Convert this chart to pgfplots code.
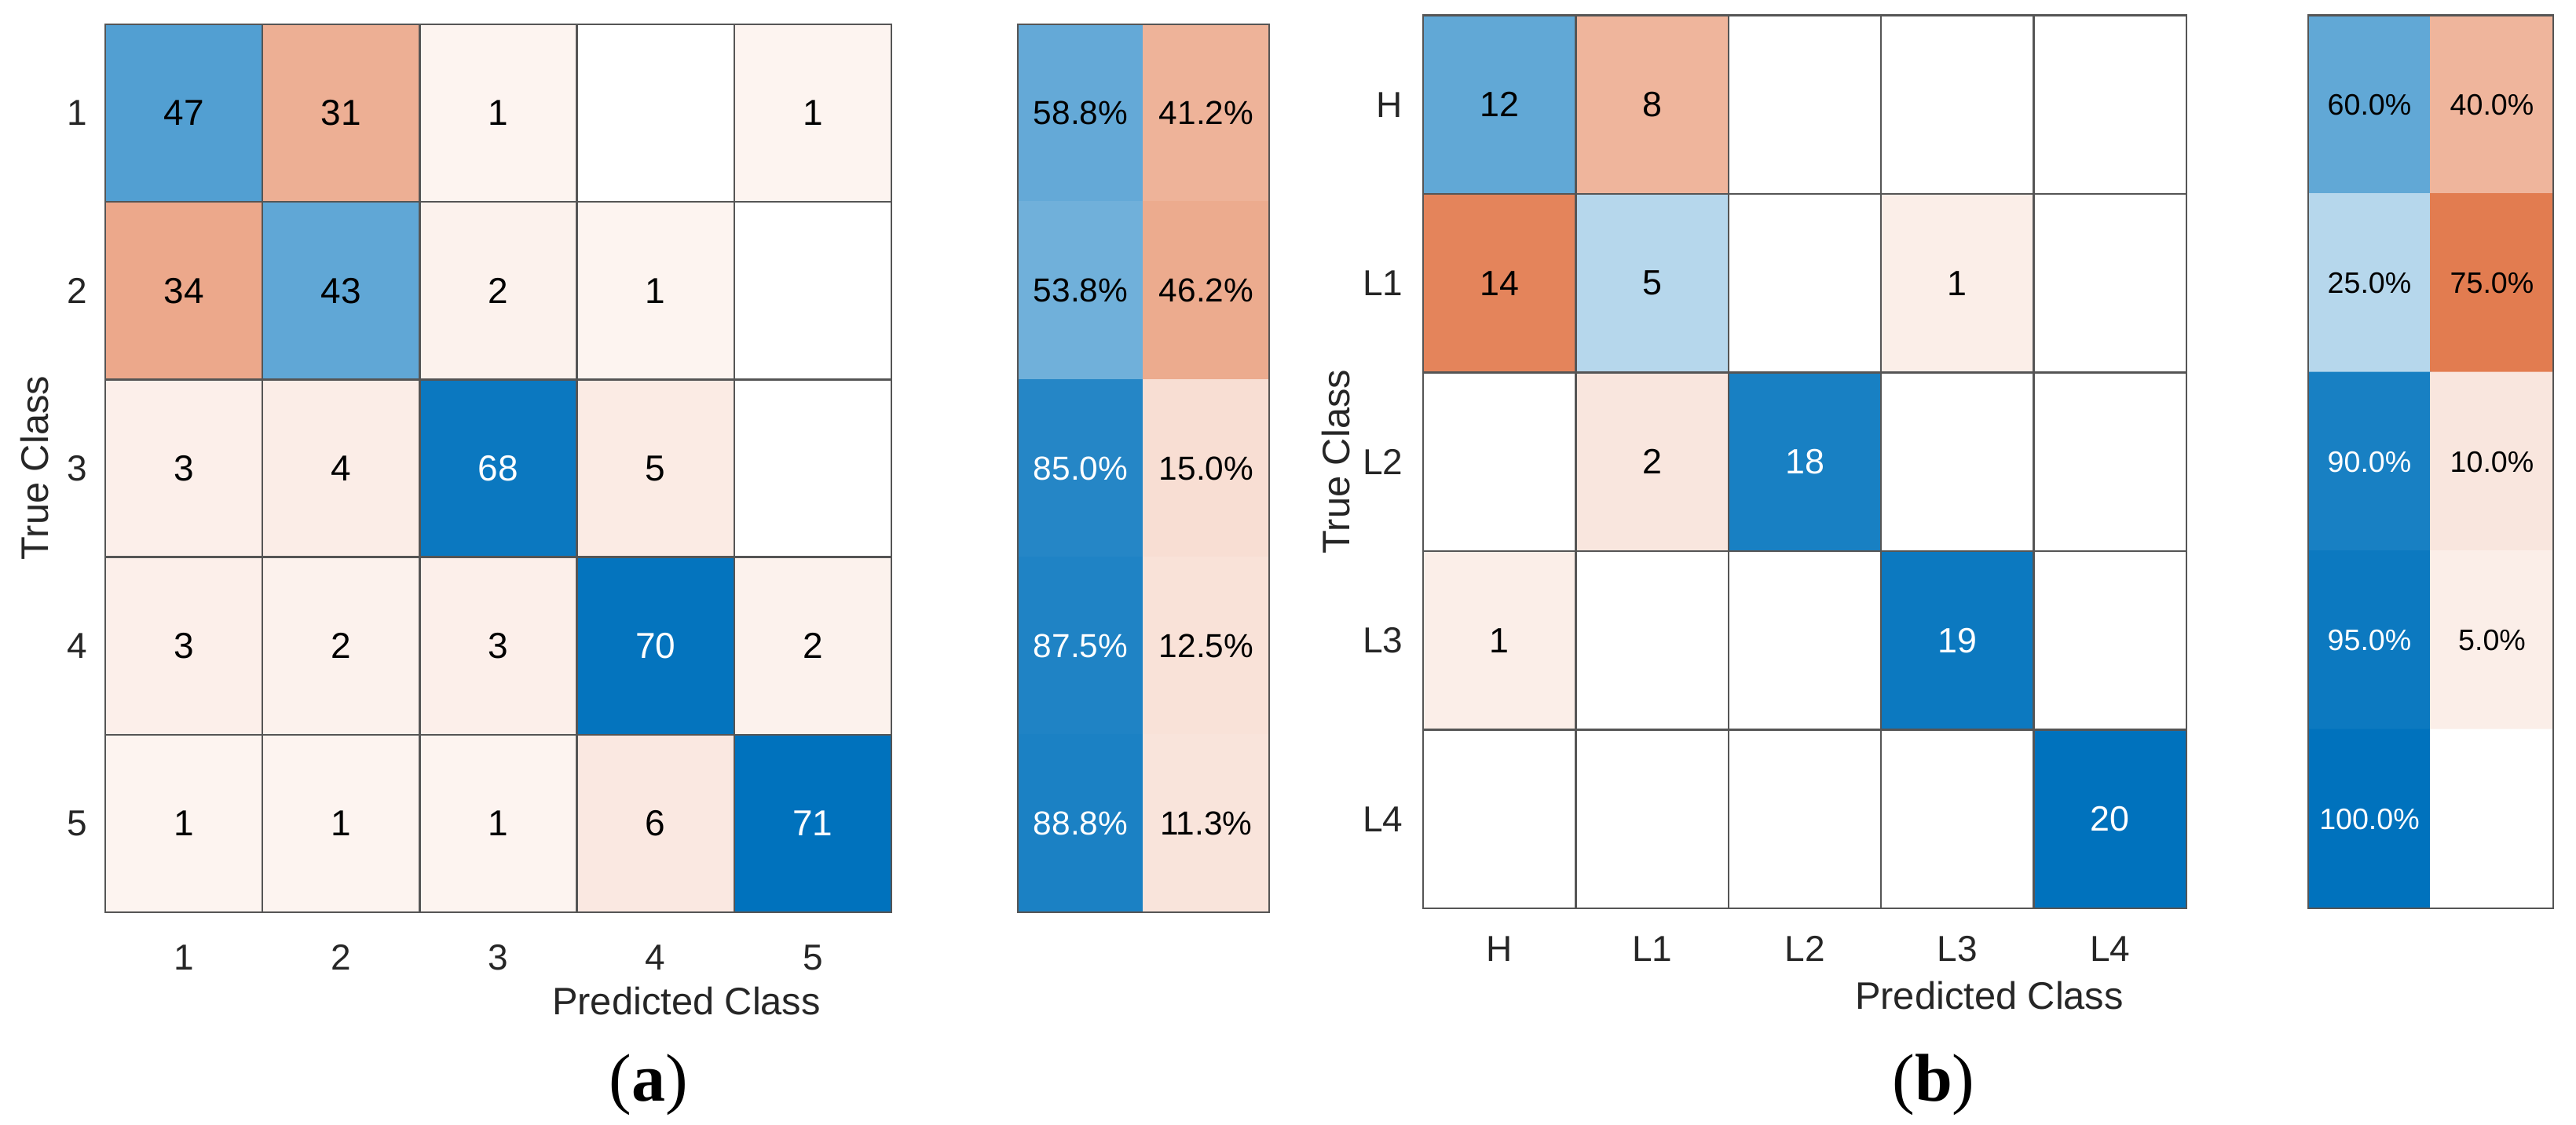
\documentclass[border=0pt]{standalone}
\usepackage{pgfplots}
\pgfplotsset{compat=1.18}
\usepackage{pgfplotstable}
\usepackage{fontspec}
\setmainfont{Liberation Sans}
\newfontfamily\capfont{Liberation Serif}
\definecolor{gridc}{RGB}{85,85,85}
\definecolor{labc}{RGB}{38,38,38}

% confusion matrix (a): x = predicted, y = true, c = count, d = 1 on diagonal
\pgfplotstableread{
x y c d
1 1 47 1
2 1 31 0
3 1 1 0
4 1 0 0
5 1 1 0
1 2 34 0
2 2 43 1
3 2 2 0
4 2 1 0
5 2 0 0
1 3 3 0
2 3 4 0
3 3 68 1
4 3 5 0
5 3 0 0
1 4 3 0
2 4 2 0
3 4 3 0
4 4 70 1
5 4 2 0
1 5 1 0
2 5 1 0
3 5 1 0
4 5 6 0
5 5 71 1
}\cmA

% row summary (a): p in percent
\pgfplotstableread{
x y p d
1 1 58.8 1
2 1 41.2 0
1 2 53.8 1
2 2 46.2 0
1 3 85.0 1
2 3 15.0 0
1 4 87.5 1
2 4 12.5 0
1 5 88.8 1
2 5 11.3 0
}\smA

% confusion matrix (b)
\pgfplotstableread{
x y c d
1 1 12 1
2 1 8 0
3 1 0 0
4 1 0 0
5 1 0 0
1 2 14 0
2 2 5 1
3 2 0 0
4 2 1 0
5 2 0 0
1 3 0 0
2 3 2 0
3 3 18 1
4 3 0 0
5 3 0 0
1 4 1 0
2 4 0 0
3 4 0 0
4 4 19 1
5 4 0 0
1 5 0 0
2 5 0 0
3 5 0 0
4 5 0 0
5 5 20 1
}\cmB

% row summary (b)
\pgfplotstableread{
x y p d
1 1 60.0 1
2 1 40.0 0
1 2 25.0 1
2 2 75.0 0
1 3 90.0 1
2 3 10.0 0
1 4 95.0 1
2 4 5.0 0
1 5 100.0 1
2 5 0 0
}\smB

\pgfplotsset{
  cmbase/.style={
    scale only axis, enlargelimits=false, y dir=reverse,
    ymin=0.5, ymax=5.5,
    point meta min=-1, point meta max=1,
    colormap={cmap}{rgb255(0cm)=(217,83,25); rgb255(1cm)=(255,255,255); rgb255(2cm)=(0,114,189)},
    axis on top,
    axis line style={gridc, line width=0.6pt},
    minor ytick={1.5,2.5,3.5,4.5},
    xminorgrids, yminorgrids,
    minor grid style={gridc, line width=0.6pt},
    major tick length=0pt, minor tick length=0pt,
    tick label style={font=\fontsize{11.5}{13}\selectfont, text=labc, inner sep=0pt},
  },
  cmmat/.style={cmbase,
    xmin=0.5, xmax=5.5,
    minor xtick={1.5,2.5,3.5,4.5},
    xtick={1,2,3,4,5}, ytick={1,2,3,4,5},
  },
  cmsum/.style={cmbase,
    xmin=0.5, xmax=2.5,
    minor xtick={1.5},
    xtick=\empty, ytick=\empty,
  },
  celltext/.style 2 args={draw=none, mark=none, nodes near coords,
    point meta=explicit symbolic,
    every node near coord/.append style={anchor=center, inner sep=0pt,
      font=\fontsize{#2}{13}\selectfont, text=#1}},
}

\begin{document}
\begin{tikzpicture}
\useasboundingbox (0pt,0pt) rectangle (820pt,-358.25pt);

% ---------------- (a) matrix ----------------
\begin{axis}[cmmat, at={(33.5pt,-7.75pt)}, anchor=north west,
  width=250.25pt, height=282.75pt,
  xticklabels={1,2,3,4,5}, yticklabels={1,2,3,4,5},
  xticklabel style={anchor=north, yshift=-10.25pt},
  yticklabel style={anchor=east, xshift=-5.5pt}]
\addplot[matrix plot*, mesh/cols=5, mesh/ordering=x varies,
  point meta={ifthenelse(\thisrow{c}>0,(0.05+0.95*\thisrow{c}/71)*(2*\thisrow{d}-1),0)}]
  table[x=x, y=y] {\cmA};
\addplot[celltext={black}{11.5},
  x filter/.expression={ifthenelse(\thisrow{c}>0 && (\thisrow{d}<1 || \thisrow{c}<57), x, nan)}]
  table[x=x, y=y, meta=c] {\cmA};
\addplot[celltext={white}{11.5},
  x filter/.expression={ifthenelse(\thisrow{d}>0 && \thisrow{c}>56, x, nan)}]
  table[x=x, y=y, meta=c] {\cmA};
\end{axis}

% ---------------- (a) summary ----------------
\begin{axis}[cmsum, at={(324pt,-7.75pt)}, anchor=north west,
  width=80pt, height=282.75pt]
\addplot[matrix plot*, mesh/cols=2, mesh/ordering=x varies,
  point meta={ifthenelse(\thisrow{p}>0,(0.05+0.95*\thisrow{p}/100)*(2*\thisrow{d}-1),0)}]
  table[x=x, y=y] {\smA};
\addplot[celltext={black}{10.6}, nodes near coords={\pgfplotspointmeta\%},
  x filter/.expression={ifthenelse(\thisrow{p}>0 && (\thisrow{d}<1 || \thisrow{p}<80), x, nan)}]
  table[x=x, y=y, meta=p] {\smA};
\addplot[celltext={white}{10.6}, nodes near coords={\pgfplotspointmeta\%},
  x filter/.expression={ifthenelse(\thisrow{d}>0 && \thisrow{p}>80, x, nan)}]
  table[x=x, y=y, meta=p] {\smA};
\end{axis}

% ---------------- (b) matrix ----------------
\begin{axis}[cmmat, at={(453pt,-4.875pt)}, anchor=north west,
  width=243pt, height=284.375pt,
  xticklabels={H,L1,L2,L3,L4}, yticklabels={H,L1,L2,L3,L4},
  xticklabel style={anchor=north, yshift=-8.75pt},
  yticklabel style={anchor=east, xshift=-6.25pt}]
\addplot[matrix plot*, mesh/cols=5, mesh/ordering=x varies,
  point meta={ifthenelse(\thisrow{c}>0,(0.05+0.95*\thisrow{c}/20)*(2*\thisrow{d}-1),0)}]
  table[x=x, y=y] {\cmB};
\addplot[celltext={black}{11.2},
  x filter/.expression={ifthenelse(\thisrow{c}>0 && (\thisrow{d}<1 || \thisrow{c}<16), x, nan)}]
  table[x=x, y=y, meta=c] {\cmB};
\addplot[celltext={white}{11.2},
  x filter/.expression={ifthenelse(\thisrow{d}>0 && \thisrow{c}>15, x, nan)}]
  table[x=x, y=y, meta=c] {\cmB};
\end{axis}

% ---------------- (b) summary ----------------
\begin{axis}[cmsum, at={(734.75pt,-4.875pt)}, anchor=north west,
  width=78pt, height=284.375pt]
\addplot[matrix plot*, mesh/cols=2, mesh/ordering=x varies,
  point meta={ifthenelse(\thisrow{p}>0,(0.05+0.95*\thisrow{p}/100)*(2*\thisrow{d}-1),0)}]
  table[x=x, y=y] {\smB};
\addplot[celltext={black}{9.4}, nodes near coords={\pgfplotspointmeta\%},
  x filter/.expression={ifthenelse(\thisrow{p}>0 && (\thisrow{d}<1 || \thisrow{p}<80), x, nan)}]
  table[x=x, y=y, meta=p] {\smB};
\addplot[celltext={white}{9.4}, nodes near coords={\pgfplotspointmeta\%},
  x filter/.expression={ifthenelse(\thisrow{d}>0 && \thisrow{p}>80, x, nan)}]
  table[x=x, y=y, meta=p] {\smB};
\end{axis}

% ---------------- labels ----------------
\node[rotate=90, font=\fontsize{12.2}{14}\selectfont, text=labc] at (11pt,-149pt) {True Class};
\node[anchor=base, font=\fontsize{12.2}{14}\selectfont, text=labc] at (218.5pt,-323pt) {Predicted Class};
\node[anchor=base, font=\capfont\fontsize{21.5}{24}\selectfont] at (206.5pt,-350.5pt) {(\textbf{a})};

\node[rotate=90, font=\fontsize{12.2}{14}\selectfont, text=labc] at (425.25pt,-147pt) {True Class};
\node[anchor=base, font=\fontsize{12.2}{14}\selectfont, text=labc] at (633.25pt,-321.25pt) {Predicted Class};
\node[anchor=base, font=\capfont\fontsize{21.5}{24}\selectfont] at (615.5pt,-350.5pt) {(\textbf{b})};
\end{tikzpicture}
\end{document}
